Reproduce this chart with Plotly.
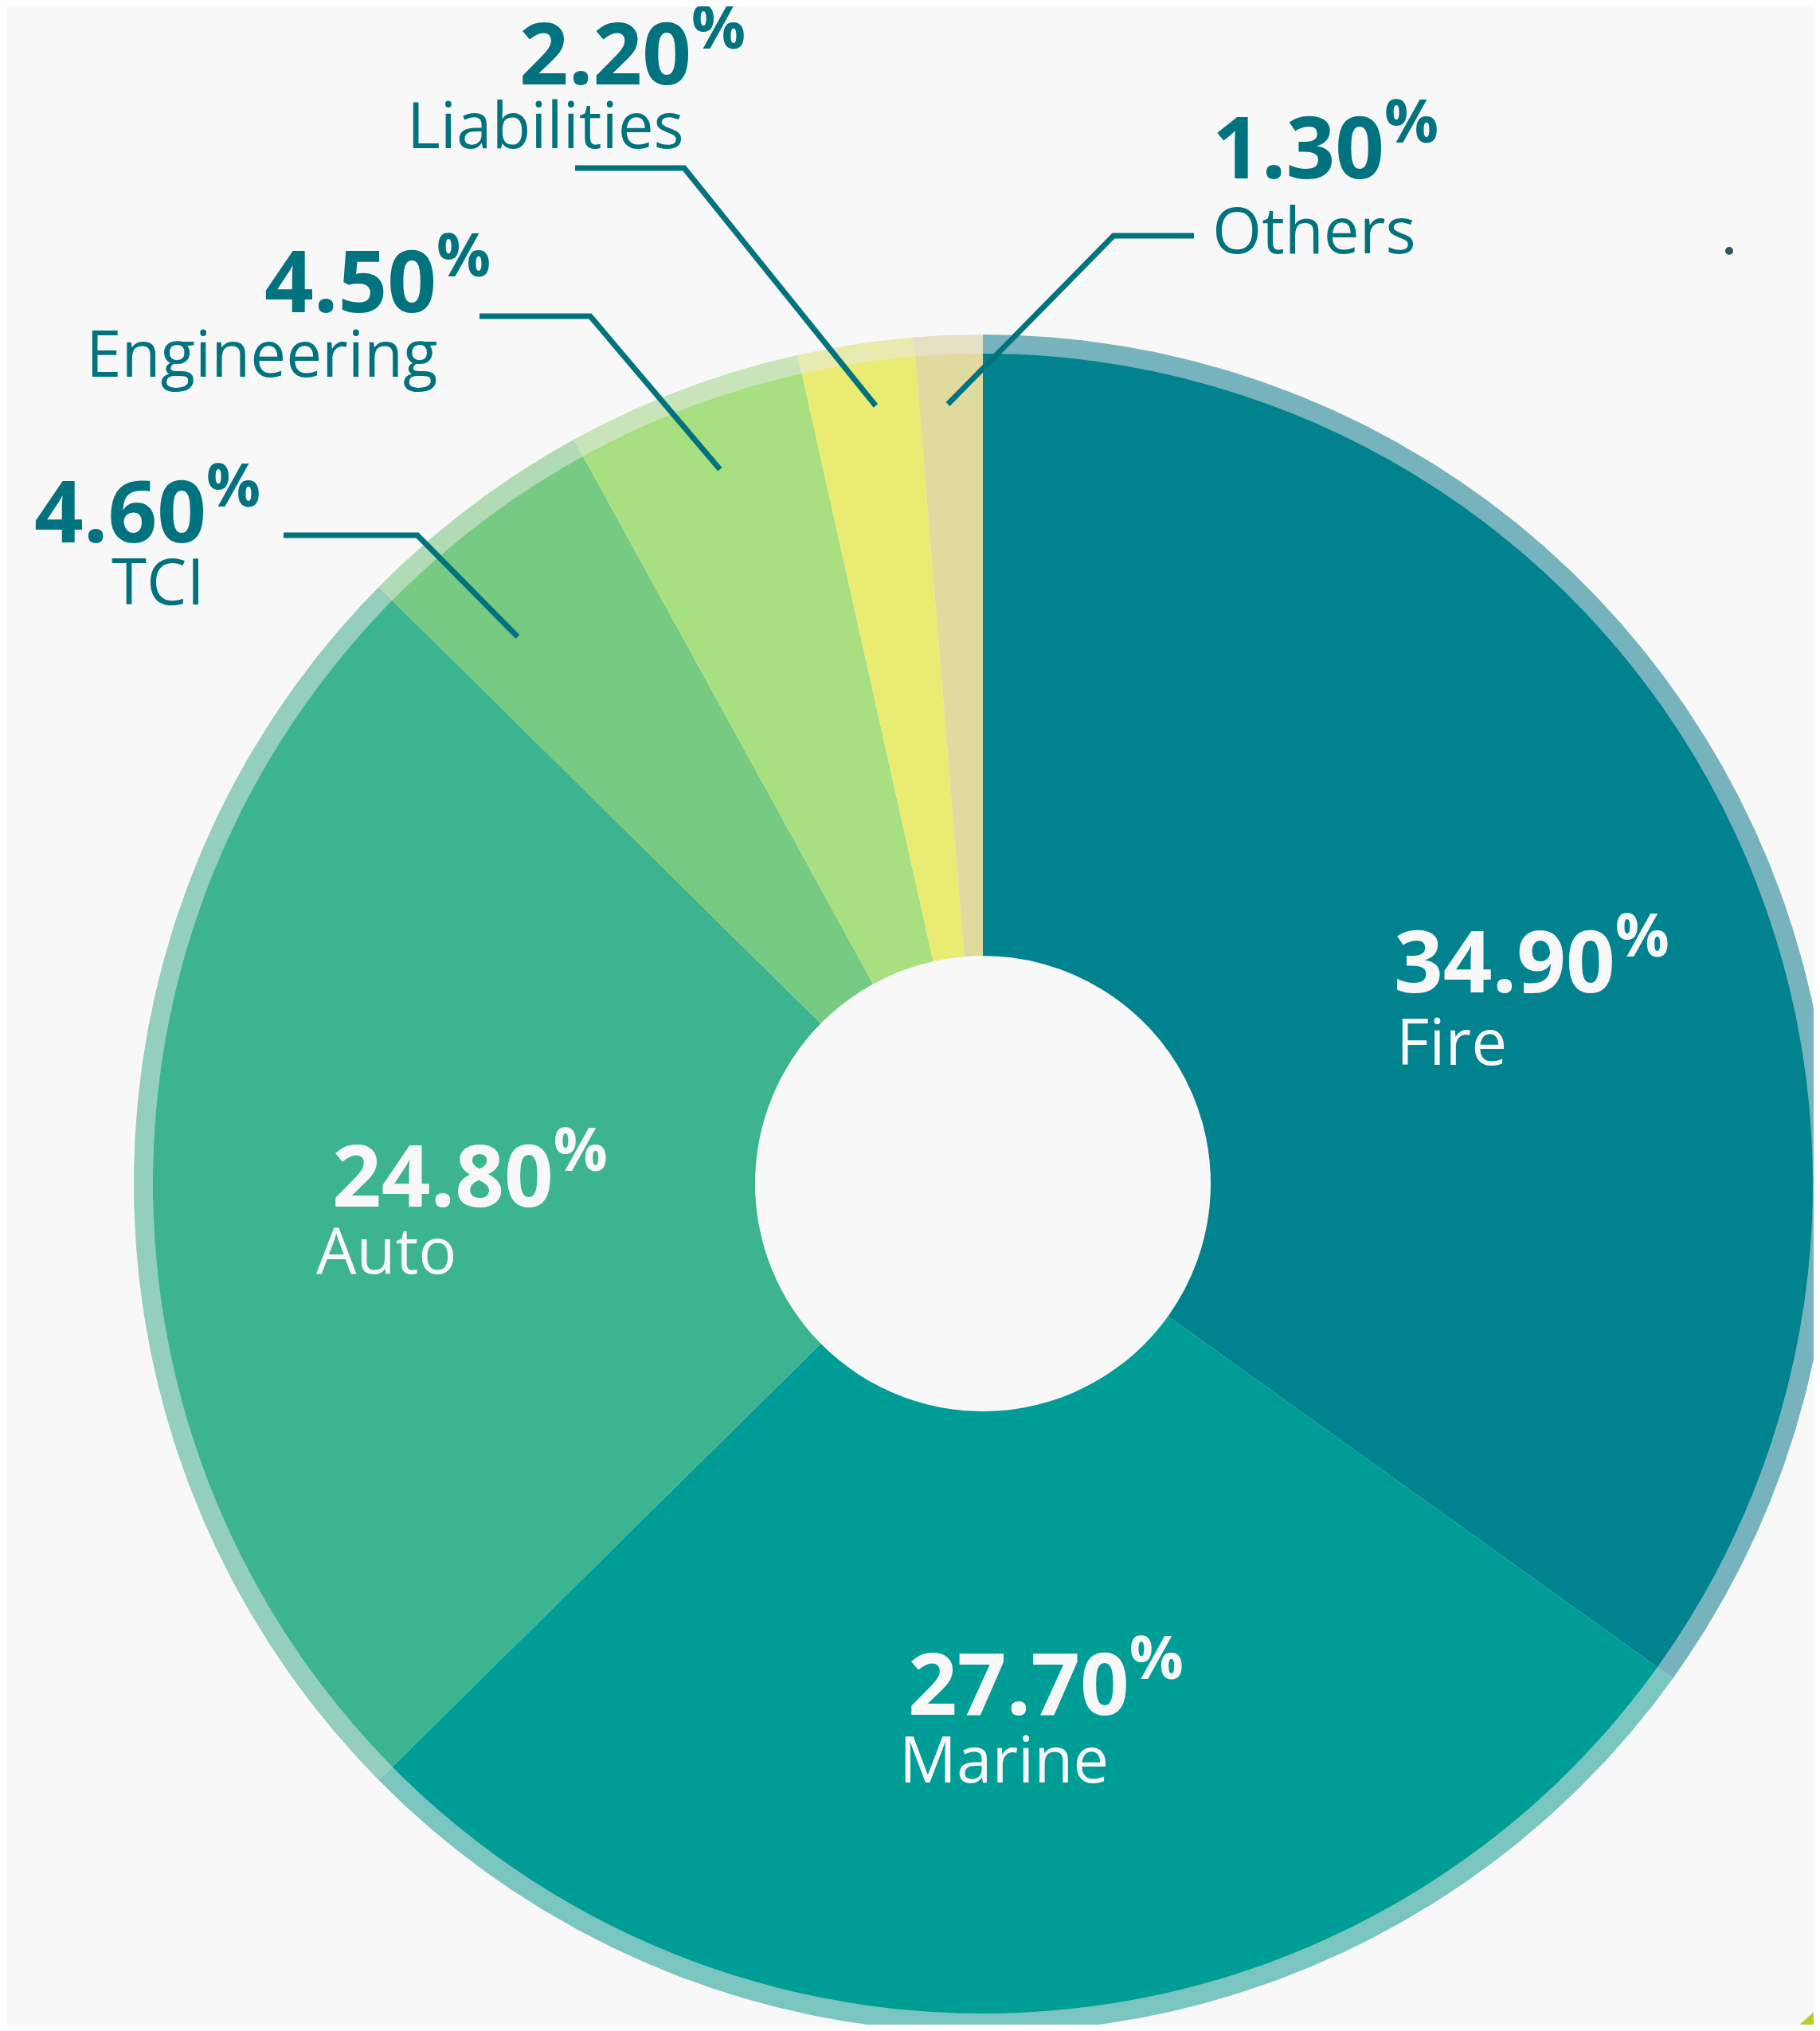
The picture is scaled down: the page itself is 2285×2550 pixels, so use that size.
import math
import plotly.graph_objects as go

# ---------------- data ----------------
categories = ["Fire", "Marine", "Auto", "TCI", "Engineering", "Liabilities", "Others"]
shares = [34.9, 27.7, 24.8, 4.6, 4.5, 2.2, 1.3]
pct_labels = [f"{v:.2f}" for v in shares]

# ---------------- style ----------------
slice_colors = ["#00828F", "#009C96", "#3CB48F", "#77CA82", "#A8DF80", "#EAEB72", "#E0DA9E"]
ring_colors = ["#77B3BD", "#7AC5C0", "#93CFBC", "#B0DBB5", "#C8E4B8", "#E9EAB0", "#E5E0C4"]
TEXT_DARK = "#00737E"
TEXT_LIGHT = "#F8F8F8"
BG = "#F8F8F8"
FONT = "Open Sans"
NUM_SIZE = 108
NAME_SIZE = 80

# page body has an 8px margin: the figure is drawn inside it, and positions below are
# given in page pixels (from the top-left of the window)
OFF = 8
W, H = 2285 - 2 * OFF, 2550 - 2 * OFF
CX, CY = 1234, 1486          # pie centre (page px)
R_RING, R_SLICE, R_HOLE = 1066, 1042, 286

# label layout (page px): number left x, number cap-middle y, name left x, name cap-middle y, inside?
label_pos = {
    "Fire":        (1748, 1199, 1751, 1305, True),
    "Marine":      (1138, 2106, 1127, 2206, True),
    "Auto":        (415, 1468, 395, 1567, True),
    "TCI":         (41, 634, 138, 727, False),
    "Engineering": (330, 345, 106, 441, False),
    "Liabilities": (650, 59, 509, 154, False),
    "Others":      (1520, 177, 1520, 286, False),
}
# leader lines: anchor position within slice (fraction of its angle), radial fraction,
# elbow (page px), end (page px)
leaders = {
    "TCI":         (0.30, 0.865, (524, 672), (356, 672)),
    "Engineering": (0.53, 0.917, (741, 397), (602, 397)),
    "Liabilities": (0.60, 0.946, (859, 211), (722, 211)),
    "Others":      (0.45, 0.94, (1398, 296), (1499, 296)),
}

total = sum(shares)
bounds = []
cum = 0.0
for v in shares:
    bounds.append((cum / total * 360.0, (cum + v) / total * 360.0))
    cum += v


def polar(theta_deg, r):
    t = math.radians(theta_deg)
    return CX + r * math.sin(t), CY - r * math.cos(t)


fig = go.Figure()

# outer translucent ring, one band per slice, drawn on page-pixel axes
for cat, (a0, a1), col in zip(categories, bounds, ring_colors):
    n = max(4, int((a1 - a0) / 0.4))
    outer = [polar(a0 + (a1 - a0) * k / n, R_RING) for k in range(n + 1)]
    inner = [polar(a1 - (a1 - a0) * k / n, R_SLICE - 1) for k in range(n + 1)]
    pts = outer + inner + [outer[0]]
    fig.add_trace(go.Scatter(
        x=[p[0] for p in pts], y=[p[1] for p in pts], mode="lines", fill="toself",
        fillcolor=col, line=dict(width=0, color=col), hoverinfo="skip", showlegend=False,
    ))

# main donut
fx, fy = CX - OFF, CY - OFF
fig.add_trace(go.Pie(
    labels=categories, values=shares, sort=False, direction="clockwise", rotation=0,
    hole=R_HOLE / R_SLICE,
    domain=dict(x=[(fx - R_SLICE) / W, (fx + R_SLICE) / W],
                y=[(H - fy - R_SLICE) / H, (H - fy + R_SLICE) / H]),
    marker=dict(colors=slice_colors, line=dict(width=0)),
    textinfo="none", hoverinfo="label+value", showlegend=False,
))

annotations = []
for cat, pct in zip(categories, pct_labels):
    nx, ny, mx, my, inside = label_pos[cat]
    col = TEXT_LIGHT if inside else TEXT_DARK
    annotations.append(dict(
        x=nx, y=ny, xref="x", yref="y", xanchor="left", yanchor="middle",
        text=f"{pct}<sup>%</sup>", showarrow=False,
        font=dict(family=FONT, size=NUM_SIZE, color=col, weight=700),
    ))
    annotations.append(dict(
        x=mx, y=my, xref="x", yref="y", xanchor="left", yanchor="middle",
        text=cat, showarrow=False,
        font=dict(family=FONT, size=NAME_SIZE, color=col),
    ))

shapes = []
for cat, (a0, a1) in zip(categories, bounds):
    if cat in leaders:
        pos, frac, (ex, ey), (tx, ty) = leaders[cat]
        ax, ay = polar(a0 + (a1 - a0) * pos, frac * R_SLICE)
        shapes.append(dict(type="path", xref="x", yref="y",
                           path=f"M {ax},{ay} L {ex},{ey} L {tx},{ty}",
                           line=dict(color=TEXT_DARK, width=7)))

# small decorative dot and corner element from the source graphic
shapes.append(dict(type="circle", xref="x", yref="y", x0=2166, x1=2176, y0=310, y1=320,
                   fillcolor="#2F5560", line=dict(width=0)))
shapes.append(dict(type="circle", xref="x", yref="y", x0=2600 - 494, x1=2600 + 494,
                   y0=2900 - 494, y1=2900 + 494, fillcolor="#BCCC2E", line=dict(width=0)))

fig.update_layout(
    width=W, height=H, margin=dict(l=0, r=0, t=0, b=0),
    paper_bgcolor=BG, plot_bgcolor=BG,
    xaxis=dict(range=[OFF, OFF + W], visible=False, fixedrange=True),
    yaxis=dict(range=[OFF + H, OFF], visible=False, fixedrange=True),
    annotations=annotations, shapes=shapes, showlegend=False,
)

fig.write_html("out.html")
